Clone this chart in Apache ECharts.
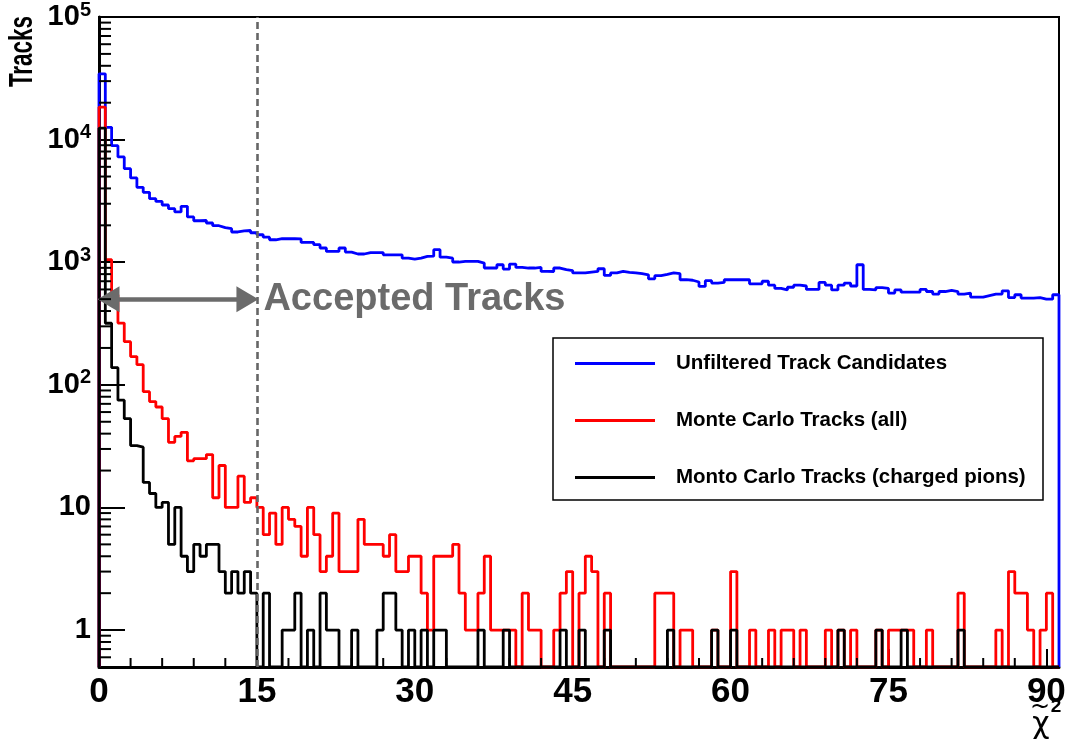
<!DOCTYPE html>
<html>
<head>
<meta charset="utf-8">
<script src="https://cdn.jsdelivr.net/npm/echarts@6/dist/echarts.min.js"></script>
<style>
html, body { margin: 0; padding: 0; background: #fff; }
#main { width: 1071px; height: 742px; }
</style>
</head>
<body>
<div id="main"></div>
<script>
// histogram: 152 bins of width 0.6 in chi2, counts per bin
const binWidth = 0.6
const floorValue = 0.5   // empty bins sit on the axis floor
const cutValue = 15
const arrowLevel = 500

const names = ['Unfiltered Track Candidates', 'Monte Carlo Tracks (all)', 'Monto Carlo Tracks (charged pions)']

const blue = [
    34400, 12600, 8930, 7230, 5800, 4870, 4080, 3715, 3300, 3130,
    2930, 2735, 2570, 2855, 2340, 2180, 2190, 2090, 1985, 1914,
    1877, 1765, 1800, 1815, 1740, 1675, 1600, 1525, 1555, 1555,
    1555, 1550, 1450, 1450, 1390, 1306, 1225, 1225, 1306, 1210,
    1167, 1167, 1200, 1200, 1200, 1150, 1150, 1150, 1080, 1060,
    1080, 1115, 1120, 1265, 1100, 1080, 1004, 1016, 1016, 1016,
    985, 897, 897, 954, 880, 966, 907, 897, 897, 907,
    841, 840, 897, 870, 855, 818, 818, 830, 841, 885,
    780, 818, 841, 826, 820, 806, 790, 732, 777, 795,
    818, 806, 720, 713, 690, 635, 707, 676, 685, 720,
    720, 720, 720, 667, 667, 700, 650, 612, 595, 625,
    650, 640, 600, 600, 685, 650, 595, 650, 676, 640,
    954, 600, 595, 620, 612, 560, 595, 570, 570, 570,
    600, 577, 550, 577, 590, 577, 550, 560, 520, 520,
    535, 550, 550, 585, 515, 543, 510, 510, 515, 500, 500, 543
]
const red = [
    18400, 1050, 543, 319, 225, 170, 146, 88, 73, 66,
    53, 34, 38, 41, 24, 25, 25, 27, 12, 22,
    10, 10, 18, 11, 12, 10, 6, 9, 5, 10,
    8, 7, 4, 10, 6, 3, 4, 9, 3, 3,
    3, 8, 5, 5, 5, 4, 6, 3, 3, 4,
    4, 2, 1, 4, 4, 4, 5, 2, 1, 1,
    2, 4, 1, 1, 1, 1, 0, 2, 1, 1,
    0, 0, 1, 2, 3, 0, 2, 4, 3, 0,
    2, 0, 0, 0, 0, 0, 0, 0, 2, 2,
    2, 0, 1, 1, 0, 0, 0, 1, 0, 0,
    3, 0, 0, 1, 0, 0, 1, 0, 1, 1,
    0, 1, 0, 0, 0, 1, 0, 1, 0, 1,
    0, 0, 0, 1, 0, 1, 1, 1, 1, 0,
    0, 1, 0, 0, 0, 0, 2, 0, 0, 0,
    0, 0, 1, 0, 3, 2, 2, 1, 0, 1, 2, 0
]
const black = [
    12400, 318, 138, 75, 53, 32, 31, 16, 13, 10,
    11, 5, 10, 4, 3, 5, 4, 5, 5, 3,
    2, 3, 2, 3, 2, 0, 2, 0, 0, 1,
    1, 2, 0, 1, 0, 2, 1, 1, 0, 0,
    1, 0, 0, 0, 1, 2, 2, 1, 0, 1,
    0, 1, 0, 1, 1, 0, 0, 0, 0, 0,
    1, 0, 0, 0, 1, 0, 0, 0, 0, 0,
    0, 0, 0, 1, 0, 0, 1, 0, 0, 0,
    1, 0, 0, 0, 0, 0, 0, 0, 0, 0,
    1, 0, 0, 0, 0, 0, 0, 1, 0, 0,
    1, 0, 0, 0, 0, 0, 0, 0, 0, 0,
    0, 0, 0, 0, 0, 0, 0, 1, 0, 0,
    0, 0, 0, 1, 0, 0, 0, 1, 0, 0,
    0, 0, 0, 0, 0, 0, 1, 0, 0, 0,
    0, 0, 0, 0, 0, 0, 0, 0, 0, 0, 0, 0
]

const xMinorTicks = [3, 6, 9, 12, 18, 21, 24, 27, 33, 36, 39, 42, 48, 51, 54, 57, 63, 66, 69, 72, 78, 81, 84, 87]
const yMinorTicks = [0.6, 0.7, 0.8, 0.9,
    2, 3, 4, 5, 6, 7, 8, 9,
    20, 30, 40, 50, 60, 70, 80, 90,
    200, 300, 400, 500, 600, 700, 800, 900,
    2000, 3000, 4000, 5000, 6000, 7000, 8000, 9000,
    20000, 30000, 40000, 50000, 60000, 70000, 80000, 90000]

const fontMain = '"Liberation Sans", Arial, sans-serif'

// bin counts -> outline points (left edges), closed down to the floor at both ends
function toSteps(counts) {
    let pts = [[0, floorValue]]
    counts.forEach(function (v, i) {
        pts.push([i * binWidth, v > 0 ? v : floorValue])
    })
    pts.push([counts.length * binWidth, floorValue])
    return pts
}

function histSeries(name, color, counts) {
    return {
        name: name,
        type: 'line',
        step: 'end',
        data: toSteps(counts),
        color: color,
        showSymbol: false,
        symbol: 'none',
        lineStyle: {color: color, width: 2.8},
        clip: true,
        silent: true
    }
}

let myChart = echarts.init(document.getElementById('main'), null, {renderer: 'canvas'})

// arrow ends are pulled in by half a head so the tips land on 0 and on the cut
let blueSeries = histSeries(names[0], '#0000ff', blue)
blueSeries.markLine = {
    silent: true,
    symbol: ['none', 'none'],
    label: {show: false},
    data: [
        {xAxis: cutValue, lineStyle: {color: '#666666', width: 2.6, type: [7, 4]}},
        [
            {
                coord: [0.9, arrowLevel], symbol: 'triangle', symbolSize: [26, 22],
                lineStyle: {color: '#6b6b6b', width: 4.5, type: 'solid'},
                label: {
                    show: true, position: 'end', formatter: 'Accepted Tracks',
                    color: '#6b6b6b', fontSize: 38, fontWeight: 'bold', fontFamily: fontMain, distance: 16
                }
            },
            {coord: [cutValue - 0.9, arrowLevel], symbol: 'triangle', symbolSize: [26, 22]}
        ]
    ]
}

let option = {
    animation: false,
    backgroundColor: '#fff',
    grid: {
        left: 99, right: 12, top: 17, bottom: 75,
        show: true, borderColor: '#000', borderWidth: 2, backgroundColor: 'transparent'
    },
    xAxis: {
        type: 'value',
        min: 0,
        max: 152 * binWidth,
        interval: 15,
        axisLine: {show: true, lineStyle: {color: '#000', width: 3}},
        axisTick: {show: true, inside: true, length: 18, lineStyle: {color: '#000', width: 2}},
        axisLabel: {
            showMaxLabel: false,
            margin: 8,
            formatter: function (v) { return v % 15 === 0 ? String(v) : '' },
            color: '#000', fontSize: 35, fontWeight: 'bold', fontFamily: fontMain
        },
        splitLine: {show: false}
    },
    yAxis: {
        type: 'log',
        logBase: 10,
        min: floorValue,
        max: 100000,
        axisLine: {show: true, lineStyle: {color: '#000', width: 3}},
        axisTick: {show: true, inside: true, length: 26, lineStyle: {color: '#000', width: 2}},
        axisLabel: {
            margin: 8,
            formatter: function (v) {
                let k = Math.round(Math.log10(v))
                if (Math.abs(v - Math.pow(10, k)) > 1e-6 * v) return ''
                if (k === 0) return '{b|1}'
                if (k === 1) return '{b|10}'
                return '{b|10}{s|' + k + '}'
            },
            rich: {
                b: {fontSize: 29, fontWeight: 'bold', fontFamily: fontMain, color: '#000', lineHeight: 34},
                s: {fontSize: 20, fontWeight: 'bold', fontFamily: fontMain, color: '#000', verticalAlign: 'top', lineHeight: 20}
            }
        },
        splitLine: {show: false}
    },
    legend: {
        data: names,
        orient: 'vertical',
        left: 575,
        top: 353,
        padding: 0,
        itemWidth: 80,
        itemHeight: 3,
        itemGap: 36,
        icon: 'rect',
        selectedMode: false,
        textStyle: {
            color: '#000', fontSize: 20.5, fontWeight: 'bold', fontFamily: fontMain,
            lineHeight: 20, padding: [0, 0, 0, 16]
        }
    },
    graphic: [
        {
            type: 'rect', z: 3,
            shape: {x: 553, y: 338, width: 490, height: 162},
            style: {fill: '#fff', stroke: '#000', lineWidth: 1.5}
        },
        {
            // condensed look of the original axis title
            type: 'text', x: 23, y: 16, rotation: Math.PI / 2, scaleX: 0.68,
            style: {text: 'Tracks', fill: '#000', font: 'bold 33px "Liberation Sans", Arial, sans-serif', align: 'right', verticalAlign: 'middle'}
        },
        {
            type: 'text', x: 1041, y: 725,
            style: {text: 'χ', fill: '#000', font: '30px "DejaVu Sans", sans-serif', align: 'center', verticalAlign: 'middle'}
        },
        {
            type: 'text', x: 1040, y: 708,
            style: {text: '~', fill: '#000', font: '24px "DejaVu Sans", sans-serif', align: 'center', verticalAlign: 'middle'}
        },
        {
            type: 'text', x: 1056, y: 707,
            style: {text: '2', fill: '#000', font: 'bold 19px "Liberation Sans", sans-serif', align: 'center', verticalAlign: 'middle'}
        }
    ],
    series: [
        blueSeries,
        histSeries(names[1], '#ff0000', red),
        histSeries(names[2], '#000000', black),
        {
            type: 'custom', silent: true, clip: false, z: 5,
            data: xMinorTicks.map(function (v) { return [v, floorValue] }),
            encode: {x: 0, y: 1},
            renderItem: function (params, api) {
                let p = api.coord([api.value(0), floorValue])
                return {type: 'line', shape: {x1: p[0], y1: p[1], x2: p[0], y2: p[1] - 9}, style: {stroke: '#000', lineWidth: 2}}
            }
        },
        {
            type: 'custom', silent: true, clip: false, z: 5,
            data: yMinorTicks.map(function (v) { return [0, v] }),
            encode: {x: 0, y: 1},
            renderItem: function (params, api) {
                let p = api.coord([0, api.value(1)])
                return {type: 'line', shape: {x1: p[0], y1: p[1], x2: p[0] + 12, y2: p[1]}, style: {stroke: '#000', lineWidth: 2}}
            }
        }
    ]
}
myChart.setOption(option)
</script>
</body>
</html>
